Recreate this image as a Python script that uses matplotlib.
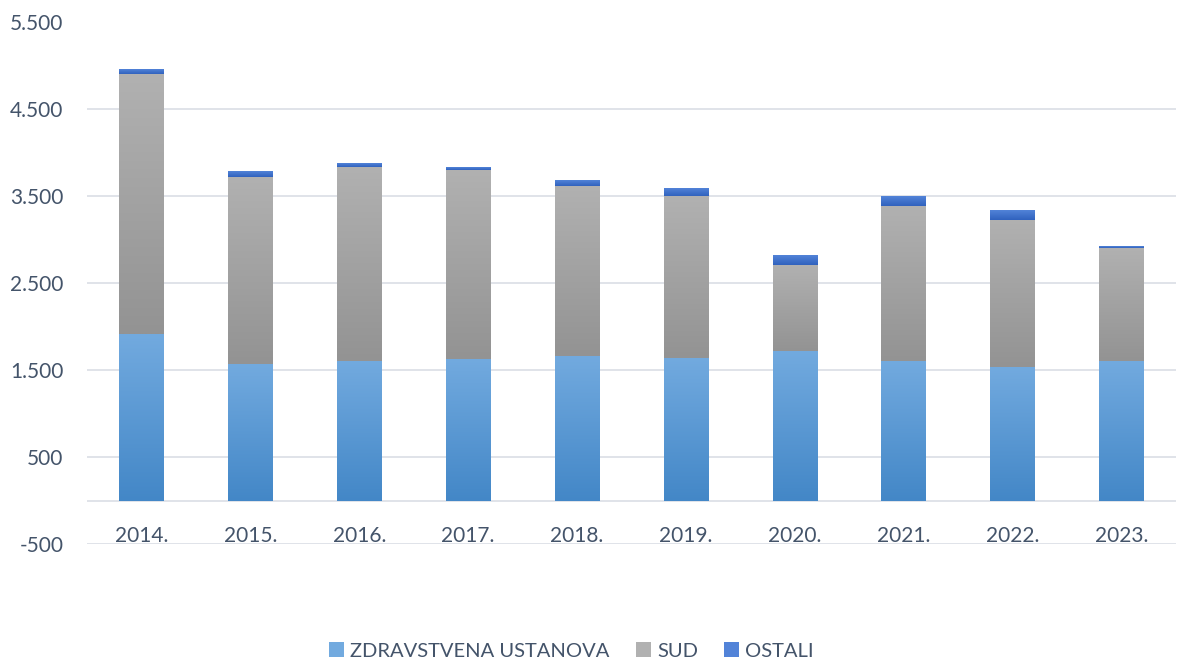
import numpy as np
import matplotlib.pyplot as plt
from matplotlib.colors import LinearSegmentedColormap
from matplotlib.patches import Patch

# Data
years = ['2014.', '2015.', '2016.', '2017.', '2018.', '2019.', '2020.', '2021.', '2022.', '2023.']
zdravstvena = [1919, 1573, 1604, 1627, 1665, 1642, 1719, 1604, 1535, 1604]
sud = [2985, 2154, 2238, 2181, 1958, 1858, 993, 1789, 1696, 1304]
ostali = [57, 58, 35, 34, 58, 89, 115, 115, 115, 23]

series_names = ['ZDRAVSTVENA USTANOVA', 'SUD', 'OSTALI']
yticks = [-500, 500, 1500, 2500, 3500, 4500, 5500]

# (top colour, bottom colour) of each gradient fill
grads = [('#72aadf', '#4387c7'),
         ('#b1b1b1', '#939393'),
         ('#5283d8', '#3062be')]

text_color = '#44546a'
grid_color = '#dde1e7'
FONT = 'Lato'

fig = plt.figure(figsize=(11.81, 6.59), dpi=100)
ax = fig.add_axes([87 / 1181, 1 - 544 / 659, (1176 - 87) / 1181, (544 - 22.5) / 659])

x = np.arange(len(years))
width = 0.41
bottom = np.zeros(len(years))
grad_img = np.linspace(1, 0, 256).reshape(-1, 1)

for vals, (c_top, c_bot) in zip([zdravstvena, sud, ostali], grads):
    bars = ax.bar(x, vals, width=width, bottom=bottom, color='none', linewidth=0, zorder=3)
    cmap = LinearSegmentedColormap.from_list('g', [c_bot, c_top])
    for b in bars:
        x0, y0 = b.get_x(), b.get_y()
        w, h = b.get_width(), b.get_height()
        ax.imshow(grad_img, extent=[x0, x0 + w, y0, y0 + h], aspect='auto',
                  cmap=cmap, vmin=0, vmax=1, zorder=3, interpolation='bilinear')
    bottom += np.array(vals)

ax.set_xlim(-0.5, len(years) - 0.5)
ax.set_ylim(-500, 5500)
ax.set_aspect('auto')

# Gridlines and zero line
ax.set_yticks(yticks)
ax.set_yticklabels([f'{v:,}'.replace(',', '.') for v in yticks])
for v in yticks:
    ax.axhline(v, color=grid_color, lw=1.3, zorder=1)
ax.axhline(0, color=grid_color, lw=1.3, zorder=2)

ax.set_xticks(x)
ax.set_xticklabels(years)
for s in ax.spines.values():
    s.set_visible(False)
ax.spines['bottom'].set_position(('data', 0))
ax.tick_params(axis='x', length=0, pad=18, labelsize=15, labelcolor=text_color)
ax.tick_params(axis='y', length=0, pad=17, labelsize=15, labelcolor=text_color)
for lab in ax.get_xticklabels() + ax.get_yticklabels():
    lab.set_fontfamily(FONT)

handles = [Patch(facecolor=c[0], edgecolor='none') for c in grads]
fig.legend(handles, series_names, loc='center', bbox_to_anchor=(0.484, 1 - 651 / 659),
           ncol=3, frameon=False, handlelength=0.75, handleheight=0.75,
           handletextpad=0.3, columnspacing=1.3,
           prop={'family': FONT, 'size': 14.5}, labelcolor=text_color)

fig.savefig('out.png', dpi=100)
